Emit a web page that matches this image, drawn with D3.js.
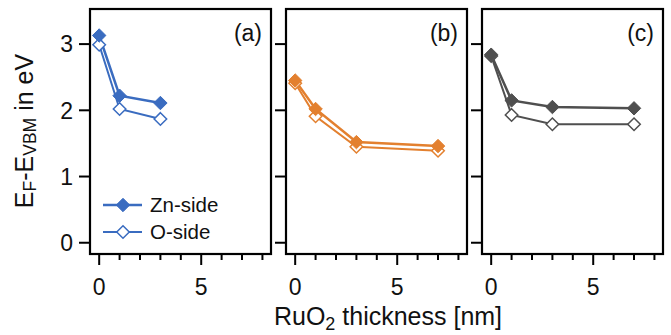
<!DOCTYPE html>
<html>
<meta charset="utf-8" />
<style>
  body { margin: 0; background: #fff; }
  text { font-family: "Liberation Sans", Arial, sans-serif; fill: #111; }
</style>
<body>
<script src="https://d3js.org/d3.v7.min.js"></script>
<script>
  let width = 671,
    height = 335;

  // thickness values (nm) measured for each sample
  let thickA = [0, 1, 3];
  let thickBC = [0, 1, 3, 7];

  // E_F - E_VBM (eV)
  let znA = [3.13, 2.22, 2.11];
  let oA = [2.99, 2.02, 1.87];
  let znB = [2.45, 2.02, 1.52, 1.46];
  let oB = [2.41, 1.91, 1.45, 1.39];
  let znC = [2.84, 2.15, 2.05, 2.03];
  let oC = [2.82, 1.93, 1.79, 1.79];

  let panelLabels = ["(a)", "(b)", "(c)"];
  let colors = ["#3a6cc0", "#e3802f", "#4f4f4f"];
  let yTicks = [0, 1, 2, 3];
  let xTicks = [0, 1, 2, 3, 4, 5, 6, 7, 8];
  let xLabels = [0, 5];
  let legendNames = ["Zn-side", "O-side"];

  let panels = [
    { x: thickA, zn: znA, o: oA },
    { x: thickBC, zn: znB, o: oB },
    { x: thickBC, zn: znC, o: oC },
  ];

  let panelLeft = [90, 286, 482],
    panelW = 181,
    plotTop = 9,
    plotBottom = 254;

  let svg = d3
    .select("body")
    .append("svg")
    .attr("width", width)
    .attr("height", height);

  let y = d3.scaleLinear().domain([-0.17, 3.53]).range([plotBottom, plotTop]);

  let diamond = d3.symbol().type(d3.symbolDiamond2);

  function drawMarkers(g, pts, color, filled) {
    g.selectAll(null)
      .data(pts)
      .join("path")
      .attr("transform", (d) => `translate(${d[0]},${d[1]})`)
      .attr("d", diamond.size(filled ? 115 : 100)())
      .attr("fill", filled ? color : "#fff")
      .attr("stroke", color)
      .attr("stroke-width", filled ? 1 : 1.5);
  }

  panels.forEach(function (p, i) {
    let x = d3
      .scaleLinear()
      .domain([-0.45, 8.42])
      .range([panelLeft[i], panelLeft[i] + panelW]);
    let g = svg.append("g");
    let col = colors[i];

    let line = d3
      .line()
      .x((d) => x(d[0]))
      .y((d) => y(d[1]));

    let oPts = p.x.map((t, k) => [t, p.o[k]]);
    let znPts = p.x.map((t, k) => [t, p.zn[k]]);

    g.append("path")
      .datum(oPts)
      .attr("d", line)
      .attr("fill", "none")
      .attr("stroke", col)
      .attr("stroke-width", 2);
    g.append("path")
      .datum(znPts)
      .attr("d", line)
      .attr("fill", "none")
      .attr("stroke", col)
      .attr("stroke-width", 2.5);

    drawMarkers(g, oPts.map((d) => [x(d[0]), y(d[1])]), col, false);
    drawMarkers(g, znPts.map((d) => [x(d[0]), y(d[1])]), col, true);

    // frame
    g.append("rect")
      .attr("x", panelLeft[i])
      .attr("y", plotTop)
      .attr("width", panelW)
      .attr("height", plotBottom - plotTop)
      .attr("fill", "none")
      .attr("stroke", "#000")
      .attr("stroke-width", 2.2);

    // y ticks
    g.selectAll(null)
      .data(yTicks)
      .join("line")
      .attr("x1", panelLeft[i] - 11)
      .attr("x2", panelLeft[i])
      .attr("y1", (d) => y(d))
      .attr("y2", (d) => y(d))
      .attr("stroke", "#000")
      .attr("stroke-width", 2);

    if (i == 0) {
      g.selectAll(null)
        .data(yTicks)
        .join("text")
        .attr("x", panelLeft[i] - 17)
        .attr("y", (d) => y(d))
        .attr("dy", "0.36em")
        .attr("text-anchor", "end")
        .attr("font-size", 23)
        .text((d) => d);
    }

    // x ticks
    g.selectAll(null)
      .data(xTicks)
      .join("line")
      .attr("x1", (d) => x(d))
      .attr("x2", (d) => x(d))
      .attr("y1", plotBottom)
      .attr("y2", (d) => (d % 5 == 0 ? plotBottom + 11 : plotBottom + 6))
      .attr("stroke", "#000")
      .attr("stroke-width", 2);

    g.selectAll(null)
      .data(xLabels)
      .join("text")
      .attr("x", (d) => x(d))
      .attr("y", 295)
      .attr("text-anchor", "middle")
      .attr("font-size", 23)
      .text((d) => d);

    g.append("text")
      .attr("x", panelLeft[i] + panelW - 9)
      .attr("y", 41)
      .attr("text-anchor", "end")
      .attr("font-size", 23)
      .text(panelLabels[i]);
  });

  // legend in panel (a)
  let legend = svg.append("g");
  legendNames.forEach(function (name, k) {
    let ly = 205 + k * 27;
    legend
      .append("line")
      .attr("x1", 103)
      .attr("x2", 142)
      .attr("y1", ly)
      .attr("y2", ly)
      .attr("stroke", colors[0])
      .attr("stroke-width", k == 0 ? 2.5 : 2);
    drawMarkers(legend, [[123, ly]], colors[0], k == 0);
    legend
      .append("text")
      .attr("x", 150)
      .attr("y", ly)
      .attr("dy", "0.36em")
      .attr("font-size", 20.5)
      .text(name);
  });

  // axis titles
  let xt = svg
    .append("text")
    .attr("x", 388)
    .attr("y", 325)
    .attr("text-anchor", "middle")
    .attr("font-size", 25);
  xt.append("tspan").text("RuO");
  xt.append("tspan").attr("font-size", 18).attr("dy", 5).text("2");
  xt.append("tspan").attr("dy", -5).text(" thickness [nm]");

  let yt = svg
    .append("text")
    .attr("transform", "translate(33,131) rotate(-90)")
    .attr("text-anchor", "middle")
    .attr("font-size", 25);
  yt.append("tspan").text("E");
  yt.append("tspan").attr("font-size", 17.5).attr("dy", 3).text("F");
  yt.append("tspan").attr("dy", -3).text("-E");
  yt.append("tspan").attr("font-size", 17.5).attr("dy", 3).text("VBM");
  yt.append("tspan").attr("dy", -3).text(" in eV");
</script>
</body>
</html>
